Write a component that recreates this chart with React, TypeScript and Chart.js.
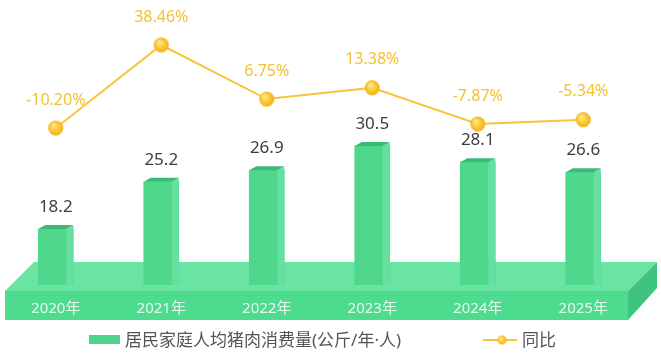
import React, { useEffect, useRef } from 'react';
import { Chart, registerables } from 'chart.js';

Chart.register(...registerables);

const years = ['2020年', '2021年', '2022年', '2023年', '2024年', '2025年'];
const consumption = [18.2, 25.2, 26.9, 30.5, 28.1, 26.6];
const yoy = [-10.2, 38.46, 6.75, 13.38, -7.87, -5.34];
const yoyLabels = ['-10.20%', '38.46%', '6.75%', '13.38%', '-7.87%', '-5.34%'];
const barSeriesName = '居民家庭人均猪肉消费量(公斤/年·人)';
const lineSeriesName = '同比';

const LATIN = '"Noto Sans", "Noto Sans CJK SC", sans-serif';

function makeDot(r: number): HTMLCanvasElement {
  const size = Math.ceil(r * 2) + 2;
  const c = document.createElement('canvas');
  c.width = size;
  c.height = size;
  const g = c.getContext('2d')!;
  const cx = size / 2;
  const cy = size / 2;
  const grad = g.createRadialGradient(cx - r * 0.3, cy - r * 0.4, r * 0.1, cx, cy, r);
  grad.addColorStop(0, '#ffe98f');
  grad.addColorStop(0.55, '#fcca36');
  grad.addColorStop(1, '#f2ad14');
  g.fillStyle = grad;
  g.beginPath();
  g.arc(cx, cy, r, 0, Math.PI * 2);
  g.fill();
  return c;
}

function poly(ctx: CanvasRenderingContext2D, pts: number[][], color: string) {
  ctx.fillStyle = color;
  ctx.beginPath();
  ctx.moveTo(pts[0][0], pts[0][1]);
  for (let i = 1; i < pts.length; i++) ctx.lineTo(pts[i][0], pts[i][1]);
  ctx.closePath();
  ctx.fill();
}

const platformPlugin = {
  id: 'platform',
  beforeDraw(chart: any) {
    const ctx = chart.ctx as CanvasRenderingContext2D;
    const { left, right, bottom } = chart.chartArea;
    const fl = left + 2;
    const fr = right - 8;
    const ft = bottom + 6;
    const fb = bottom + 35;
    const d = 29;
    ctx.save();
    poly(ctx, [[fl, ft], [fr, ft], [fr + d, ft - d], [fl + d, ft - d]], '#69e4a3');
    poly(ctx, [[fl, ft], [fr, ft], [fr, fb], [fl, fb]], '#4ddb8e');
    poly(ctx, [[fr, ft], [fr + d, ft - d], [fr + d, fb - d - 3], [fr, fb]], '#3fc47d');
    ctx.restore();
  },
};

const bar3dPlugin = {
  id: 'bar3d',
  afterDatasetDraw(chart: any, args: any) {
    if (args.index !== 0) return;
    const ctx = chart.ctx as CanvasRenderingContext2D;
    const meta = chart.getDatasetMeta(0);
    const floor = chart.chartArea.bottom;
    ctx.save();
    meta.data.forEach((el: any) => {
      const { x, y, base, width } = el.getProps(['x', 'y', 'base', 'width'], true);
      const b = Math.min(base, floor);
      const half = width / 2;
      const side = 7;
      const dy = 4;
      const fr = x + half - side;
      poly(ctx, [[fr, y], [x + half, y - dy], [x + half, b], [fr, b]], '#66e0a0');
      poly(ctx, [[x - half, y], [fr, y], [x + half, y - dy], [x - half + side, y - dy]], '#3bb978');
    });
    ctx.restore();
  },
};

const labelPlugin = {
  id: 'valueLabels',
  afterDatasetsDraw(chart: any) {
    const ctx = chart.ctx as CanvasRenderingContext2D;
    ctx.save();
    ctx.textAlign = 'center';
    ctx.textBaseline = 'middle';
    const barMeta = chart.getDatasetMeta(0);
    ctx.font = `17px ${LATIN}`;
    ctx.fillStyle = '#3d3d3d';
    barMeta.data.forEach((el: any, i: number) => {
      ctx.fillText(String(consumption[i]), el.x, el.y - 22);
    });
    const lineMeta = chart.getDatasetMeta(1);
    ctx.font = `16px ${LATIN}`;
    ctx.fillStyle = '#f2c232';
    lineMeta.data.forEach((el: any, i: number) => {
      ctx.fillText(yoyLabels[i], el.x, el.y - 28);
    });
    ctx.restore();
  },
};

const legendDot = { img: null as HTMLCanvasElement | null };

const legendPlugin = {
  id: 'customLegend',
  afterDraw(chart: any) {
    const ctx = chart.ctx as CanvasRenderingContext2D;
    ctx.save();
    const cy = 340;
    ctx.fillStyle = '#4dd68b';
    ctx.fillRect(89, cy - 5, 31, 9);
    ctx.font = `17px ${LATIN}`;
    ctx.fillStyle = '#555555';
    ctx.textAlign = 'left';
    ctx.textBaseline = 'middle';
    ctx.fillText(barSeriesName, 125, cy + 1);
    ctx.strokeStyle = '#f6c638';
    ctx.lineWidth = 2;
    ctx.beginPath();
    ctx.moveTo(483, cy);
    ctx.lineTo(517, cy);
    ctx.stroke();
    if (legendDot.img) ctx.drawImage(legendDot.img, 502 - legendDot.img.width / 2, cy - legendDot.img.height / 2);
    ctx.fillStyle = '#555555';
    ctx.fillText(lineSeriesName, 522, cy + 1);
    ctx.restore();
  },
};

export default function App() {
  const ref = useRef<HTMLCanvasElement>(null);
  useEffect(() => {
    if (!ref.current) return;
    const dot = makeDot(7.5);
    legendDot.img = makeDot(4.5);
    const chart = new Chart(ref.current, {
      type: 'bar',
      data: {
        labels: years,
        datasets: [
          {
            type: 'bar',
            label: barSeriesName,
            data: consumption,
            yAxisID: 'y',
            backgroundColor: '#4fd88c',
            borderWidth: 0,
            barThickness: 35,
            order: 1,
          } as any,
          {
            type: 'line',
            label: lineSeriesName,
            data: yoy,
            yAxisID: 'y1',
            borderColor: '#f6c638',
            borderWidth: 2,
            tension: 0,
            pointStyle: dot,
            pointRadius: 1,
            pointBorderWidth: 0,
            pointHoverRadius: 1,
            order: 0,
          } as any,
        ],
      },
      options: {
        responsive: false,
        animation: false,
        layout: { padding: { left: 3, right: 25, top: 10, bottom: 0 } },
        plugins: { legend: { display: false }, tooltip: { enabled: false } },
        scales: {
          x: {
            offset: true,
            grid: { display: false, drawTicks: false },
            border: { display: false },
            ticks: {
              color: 'rgba(255,255,255,0.85)',
              font: { size: 15, family: LATIN },
              padding: 15,
              z: 1,
              maxRotation: 0,
              autoSkip: false,
            },
            afterFit: (s: any) => {
              s.height = 70;
              s.paddingLeft = 0;
              s.paddingRight = 0;
            },
          },
          y: { display: false, min: 9.9, max: 50.64 },
          y1: { display: false, position: 'right', min: -102.23, max: 58.97 },
        },
      } as any,
      plugins: [platformPlugin, bar3dPlugin, labelPlugin, legendPlugin],
    });
    return () => chart.destroy();
  }, []);
  return (
    <canvas
      ref={ref}
      width={661}
      height={355}
      style={{ position: 'absolute', left: 0, top: 0, display: 'block' }}
    />
  );
}
